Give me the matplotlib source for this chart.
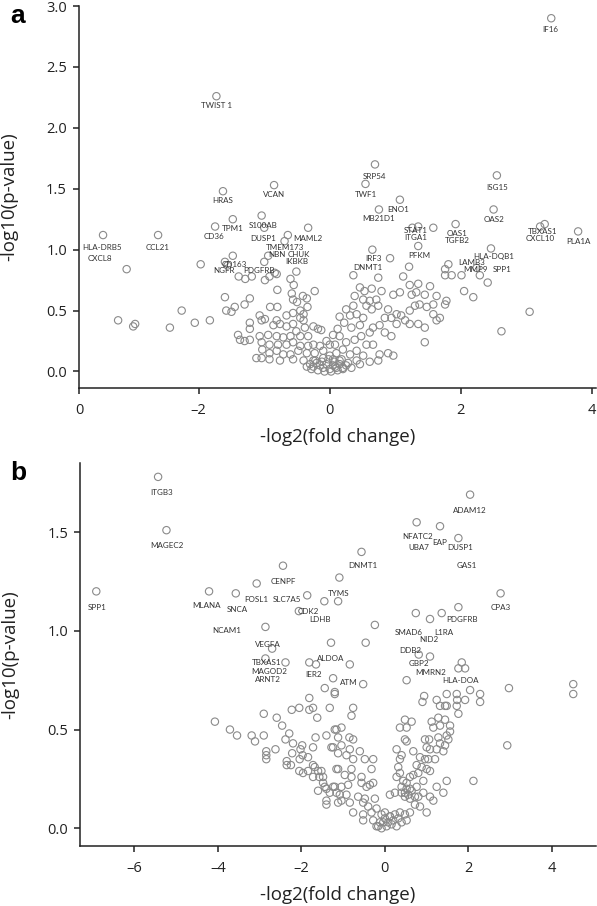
import matplotlib
matplotlib.use("Agg")
import matplotlib.pyplot as plt

plt.rcParams['font.family'] = ['Open Sans', 'DejaVu Sans']

# ---------------- panel a data ----------------
a_x = [-1.73, -1.63, -0.85, -3.46, -3.10, -2.62, -1.48, -1.75, -1.04, -1.00,
       -0.64, -0.69, -0.33, -0.94, -1.48, -1.60, -1.00, -1.56, -1.97,
       -1.39, -1.29, -1.19, -0.99, -0.92, -0.84, -0.81, -0.51, -0.60, -0.55,
       -0.80, -0.23, -0.58, -0.56, -0.50, -0.41, -0.35, -0.34, -1.60, -1.22,
       -1.30, -1.45, -1.58, -1.50, -1.07, -1.04, -0.99, -0.91, -0.80, -1.22,
       -1.22, -1.40, -1.37, -1.30, -1.22, -0.86,
       -3.23, -3.00, -2.97, -2.44, -2.26, -2.06, -1.83,
       -1.07, -0.94, -0.81, -0.71, -0.60, -0.45, -0.33,
       -1.04, -0.92, -0.79, -0.66, -0.56, -0.45, -0.33, -0.25, -0.15,
       -1.03, -0.92, -0.81, -0.71, -0.60, -0.48, -0.35, -0.23, -0.10,
       -1.12, -1.04, -0.92, -0.76, -0.56, -0.40, -0.25, -0.10, 0.00,
       -0.66, -0.56, -0.45, -0.40, -0.56, -0.66, -0.76, -0.51, -0.38, -0.25,
       -0.18, -0.13, -0.40, -0.45, -0.81,
       -0.30, -0.25, -0.20, -0.15, -0.10, -0.05, 0.00, 0.05, 0.10, -0.28,
       -0.18, -0.08, 0.02, 0.12, -0.22, -0.12, 0.07, 0.15, 0.20, -0.35,
       -0.02, 0.25, 0.18,
       0.69, 0.545, 1.07, 0.75, 2.55, 2.50, 3.38,
       1.26, 1.35, 1.58, 1.92, 1.35, 0.65, 0.92, 1.21, 0.36, 0.74, 1.12,
       1.81, 1.76, 1.76, 1.86, 2.01, 2.46, 2.24, 2.29, 2.41, 3.21, 3.28,
       3.79, 3.05, 2.62, 2.05, 2.19,
       1.22, 1.35, 1.53,
       0.97, 1.07, 1.25, 1.32, 1.45, 1.63, 1.78, 1.76,
       0.46, 0.53, 0.64, 0.79,
       0.38, 0.51, 0.61, 0.71, 0.74, 0.56, 0.36, 0.25,
       0.89, 1.02, 1.09, 1.22, 1.30, 1.37, 1.48, 1.58,
       1.58, 1.68, 1.63, 1.45, 1.35, 1.22, 1.15, 1.02, 0.94, 0.84, 0.76,
       0.84, 0.94, 0.61, 0.66, 0.46, 0.33, 0.31, 0.41, 0.51, 0.64,
       1.45, 0.97, 0.89, 0.76, 0.66, 0.56, 0.74,
       0.10, 0.20, 0.31, 0.41, 0.51, 0.15, 0.28, 0.41, 0.08, 0.20, 0.33,
       0.46, 0.61, 0.05, 0.25, 0.38, 0.48, 0.15, 0.08,
       0.05, 0.12, 0.22, 0.00, 0.15, -0.05]
a_y = [2.26, 1.48, 1.53, 1.12, 0.84, 1.12, 1.25, 1.19, 1.28, 1.18,
       1.12, 1.07, 1.18, 0.95, 0.95, 0.90, 0.90, 0.87, 0.88,
       0.78, 0.76, 0.78, 0.75, 0.78, 0.81, 0.80, 0.82, 0.76, 0.71,
       0.67, 0.66, 0.64, 0.59, 0.57, 0.62, 0.60, 0.53, 0.61, 0.60,
       0.55, 0.53, 0.50, 0.49, 0.46, 0.42, 0.43, 0.53, 0.53, 0.40,
       0.35, 0.30, 0.26, 0.25, 0.26, 0.38,
       0.42, 0.37, 0.39, 0.36, 0.50, 0.40, 0.42,
       0.29, 0.30, 0.29, 0.28, 0.29, 0.29, 0.29,
       0.24, 0.22, 0.22, 0.22, 0.24, 0.21, 0.21, 0.22, 0.21,
       0.18, 0.15, 0.17, 0.14, 0.14, 0.17, 0.15, 0.15, 0.17,
       0.11, 0.11, 0.10, 0.09, 0.10, 0.09, 0.09, 0.11, 0.13,
       0.46, 0.48, 0.44, 0.42, 0.39, 0.37, 0.39, 0.33, 0.36, 0.37,
       0.35, 0.34, 0.47, 0.50, 0.42,
       0.06, 0.04, 0.07, 0.05, 0.03, 0.06, 0.02, 0.05, 0.03, 0.02,
       0.01, 0.00, 0.00, 0.01, 0.09, 0.08, 0.08, 0.06, 0.02, 0.04,
       0.10, 0.05, 0.10,
       1.70, 1.54, 1.41, 1.33, 1.61, 1.33, 2.90,
       1.18, 1.19, 1.18, 1.21, 1.03, 1.00, 0.93, 0.86, 0.79, 0.77, 0.78,
       0.88, 0.84, 0.79, 0.79, 0.79, 1.01, 0.85, 0.79, 0.73, 1.19, 1.21,
       1.15, 0.49, 0.33, 0.66, 0.61,
       0.71, 0.72, 0.70,
       0.63, 0.65, 0.63, 0.65, 0.63, 0.62, 0.58, 0.55,
       0.69, 0.66, 0.68, 0.66,
       0.62, 0.59, 0.58, 0.59, 0.54, 0.54, 0.54, 0.51,
       0.51, 0.47, 0.46, 0.50, 0.54, 0.55, 0.53, 0.55,
       0.47, 0.44, 0.42, 0.36, 0.39, 0.39, 0.42, 0.39, 0.44, 0.44, 0.38,
       0.32, 0.29, 0.32, 0.36, 0.38, 0.36, 0.46, 0.47, 0.44, 0.51,
       0.24, 0.13, 0.15, 0.14, 0.22, 0.22, 0.09,
       0.15, 0.18, 0.14, 0.17, 0.13, 0.09, 0.07, 0.09, 0.04, 0.03, 0.03,
       0.06, 0.08, 0.10, 0.24, 0.26, 0.29, 0.29, 0.22,
       0.30, 0.35, 0.40, 0.22, 0.45, 0.25]

a_labels = ['TWIST 1', 'HRAS', 'VCAN', 'HLA-DRB5', 'CXCL8', 'CCL21', 'TPM1',
            'CD36', 'S100AB', 'DUSP1', 'MAML2', 'TMEM173', 'NBN', 'CHUK',
            'IKBKB', 'CD163', 'NGFR', 'PDGFRB', 'SRP54', 'TWF1', 'ENO1',
            'MB21D1', 'ISG15', 'OAS2', 'STAT1', 'ITGA1', 'OAS1', 'TGFB2',
            'PFKM', 'IRF3', 'DNMT1', 'HLA-DQB1', 'LAMB3', 'MMP9', 'SPP1',
            'TBXAS1', 'CXCL10', 'PLA1A', 'IF16']
a_lab_x = [-1.73, -1.63, -0.85, -3.47, -3.51, -2.63, -1.48, -1.76, -1.01, -1.02,
           -0.34, -0.69, -0.80, -0.48, -0.50, -1.45, -1.62, -1.08, 0.69, 0.55,
           1.05, 0.75, 2.55, 2.50, 1.31, 1.31, 1.94, 1.94, 1.36, 0.66, 0.58,
           2.50, 2.16, 2.23, 2.63, 3.25, 3.21, 3.79, 3.37]
a_lab_y = [2.18, 1.40, 1.45, 1.02, 0.93, 1.02, 1.17, 1.11, 1.20, 1.09,
           1.09, 1.015, 0.96, 0.96, 0.905, 0.88, 0.83, 0.83, 1.60, 1.45,
           1.33, 1.26, 1.51, 1.25, 1.155, 1.10, 1.13, 1.075, 0.95, 0.93, 0.85,
           0.945, 0.895, 0.84, 0.84, 1.15, 1.09, 1.07, 2.81]

# ---------------- panel b data ----------------
b_x = [-5.43, -5.23, -6.91, -4.21, -3.57, -3.07, -2.44, -2.86, -2.70,
       -2.06, -1.86,
       2.04, 0.76, 1.32, 1.76, -0.56, -1.09, -1.45, -1.12, 2.77, 1.76,
       0.74, 1.08, 1.36, -0.24, -1.29, -0.46, 0.81, 1.08,
       -2.86, -2.38, -1.81, -1.65, -1.24, -1.44, -1.20, -1.81, -1.32, -2.23,
       -2.05, -1.81, -1.72, -2.90, -2.59, -2.46, -1.62, -4.07, -3.71, -3.54,
       -3.19, -3.11, -2.90, -2.84, -2.84, -2.84, -2.62, -2.29, -2.38, -2.20,
       -1.98, -2.22, -2.02, -1.97, -2.35, -2.35, -2.25,
       -0.52, -0.84,
       0.52, 1.76, 1.84, 1.92, 2.04, 2.28, 2.28, 2.97, 4.51, 4.51, 2.93,
       2.12, 1.48, 1.72, 1.92, 1.73, 1.72, 1.76, 1.48,
       -1.20, -0.76, -0.80, -1.16, -1.04, -0.85, -0.76, -1.24, -1.04, -0.84,
       -0.60, -0.92, -0.76, -0.48, -0.28, -1.12, -0.80, -0.32, -0.96, -0.80,
       -0.56, -0.28, -1.24, -1.04, -0.88, -0.56, -0.44, -0.36,
       -1.16, -0.92, -0.64, -0.48, -0.24,
       -1.04, -0.84, -0.52, -0.40, -0.20, -0.76, -0.52, -0.32, -0.08,
       -0.52, -0.28, -0.16, -0.04, 0.12,
       -0.20, -0.08, 0.04, 0.16, 0.28, 0.40, 0.52, 0.00, 0.12, 0.24, 0.36,
       -0.12, 0.08, 0.20, 0.32, 0.00, 0.48, 0.60,
       0.12, 0.24, 0.40, 0.48, 0.60,
       0.40, 0.52, 0.60, 0.48, 0.56, 0.64, 0.72, 0.76, 0.52,
       0.28, 0.36, 0.44,
       0.60, 0.68, 0.80, 0.88, 0.76, 0.92, 1.00, 1.08,
       0.32, 0.40, 0.48, 0.36,
       0.68, 0.84, 0.96, 1.04, 1.20, 0.28, 0.52,
       1.00, 1.08, 1.24, 1.40,
       0.96, 1.06, 1.28, 1.48, 1.56, 1.52, 1.32, 1.44,
       0.64, 0.52, 0.36, 0.48,
       1.12, 1.16, 1.32, 1.44, 1.56,
       1.28, 1.32, 1.44, 1.24, 0.94, 0.90,
       1.24, 1.48, 1.40, 1.08, 0.92, 0.80, 0.72, 0.84, 1.00, 1.16,
       -2.05, -1.96, -1.84, -1.72, -1.68, -1.60, -1.52, -1.57, -1.48, -1.48,
       -1.44, -1.40, -1.32, -1.40, -1.40, -1.60, -1.72, -1.84, -2.04, -1.72,
       -1.66, -1.40, -1.28, -1.20, -1.12, -1.12, -1.16, -1.20, -1.08, -1.12]
b_y = [1.78, 1.51, 1.20, 1.20, 1.19, 1.24, 1.33, 1.02, 0.91,
       1.10, 1.18,
       1.69, 1.55, 1.53, 1.47, 1.40, 1.27, 1.15, 1.15, 1.19, 1.12,
       1.09, 1.06, 1.09, 1.03, 0.94, 0.94, 0.88, 0.87,
       0.86, 0.84, 0.84, 0.83, 0.76, 0.71, 0.68, 0.66, 0.61, 0.60,
       0.61, 0.60, 0.61, 0.58, 0.56, 0.52, 0.56, 0.54, 0.50, 0.47,
       0.47, 0.44, 0.47, 0.39, 0.37, 0.35, 0.40, 0.48, 0.45, 0.43,
       0.42, 0.38, 0.40, 0.37, 0.34, 0.32, 0.32,
       0.73, 0.83,
       0.75, 0.81, 0.84, 0.81, 0.70, 0.68, 0.64, 0.71, 0.73, 0.68, 0.42,
       0.24, 0.68, 0.68, 0.65, 0.65, 0.62, 0.58, 0.62,
       0.69, 0.61, 0.57, 0.50, 0.51, 0.46, 0.45, 0.41, 0.42, 0.40,
       0.39, 0.37, 0.35, 0.35, 0.35, 0.30, 0.30, 0.30, 0.27, 0.26,
       0.26, 0.23, 0.21, 0.21, 0.22, 0.23, 0.21, 0.22,
       0.18, 0.17, 0.16, 0.15, 0.15,
       0.14, 0.13, 0.13, 0.11, 0.10, 0.08, 0.07, 0.08, 0.07,
       0.04, 0.04, 0.01, 0.03, 0.06,
       0.01, 0.00, 0.01, 0.02, 0.01, 0.03, 0.04, 0.05, 0.06, 0.07, 0.08,
       0.03, 0.03, 0.04, 0.05, 0.08, 0.07, 0.08,
       0.17, 0.18, 0.18, 0.16, 0.15,
       0.21, 0.23, 0.20, 0.18, 0.17, 0.19, 0.16, 0.21, 0.20,
       0.26, 0.28, 0.24,
       0.26, 0.27, 0.28, 0.31, 0.32, 0.24, 0.30, 0.29,
       0.31, 0.37, 0.45, 0.35,
       0.39, 0.36, 0.35, 0.35, 0.35, 0.40, 0.44,
       0.41, 0.40, 0.40, 0.39,
       0.45, 0.45, 0.46, 0.47, 0.49, 0.45, 0.43, 0.42,
       0.54, 0.51, 0.51, 0.55,
       0.54, 0.51, 0.52, 0.55, 0.52,
       0.56, 0.62, 0.62, 0.65, 0.67, 0.64,
       0.21, 0.24, 0.18, 0.16, 0.18, 0.16, 0.12, 0.11, 0.08, 0.14,
       0.29, 0.28, 0.29, 0.26, 0.31, 0.29, 0.29, 0.26, 0.26, 0.23,
       0.21, 0.20, 0.18, 0.14, 0.12, 0.19, 0.32, 0.36, 0.35, 0.41,
       0.46, 0.47, 0.41, 0.50, 0.46, 0.38, 0.30, 0.21, 0.17, 0.13]

b_labels = ['ITGB3', 'MAGEC2', 'SPP1', 'MLANA', 'SNCA', 'FOSL1', 'SLC7A5',
            'CENPF', 'NCAM1', 'VEGFA', 'TBXAS1', 'MAGOD2', 'ARNT2', 'ALDOA',
            'IER2', 'ATM', 'CDK2', 'LDHB', 'TYMS', 'DNMT1', 'NFATC2', 'EAP',
            'UBA7', 'DUSP1', 'GAS1', 'ADAM12', 'CPA3', 'PDGFRB', 'SMAD6',
            'NID2', 'L1RA', 'DDB2', 'GBP2', 'MMRN2', 'HLA-DOA']
b_lab_x = [-5.34, -5.22, -6.90, -4.26, -3.54, -3.07, -2.35, -2.44, -3.78, -2.80,
           -2.83, -2.78, -2.80, -1.29, -1.72, -0.86, -1.84, -1.56, -1.10, -0.53,
           0.79, 1.32, 0.81, 1.79, 1.96, 2.04, 2.78, 1.84, 0.56, 1.05, 1.42,
           0.60, 0.81, 1.10, 1.82]
b_lab_y = [1.70, 1.43, 1.12, 1.13, 1.11, 1.16, 1.16, 1.25, 1.00, 0.93,
           0.84, 0.795, 0.755, 0.86, 0.78, 0.74, 1.10, 1.06, 1.19, 1.33,
           1.48, 1.45, 1.42, 1.42, 1.33, 1.61, 1.12, 1.06, 0.99, 0.955, 0.99,
           0.90, 0.835, 0.79, 0.75]

fig = plt.figure(figsize=(5.97, 9.06), dpi=100)
ax_a = fig.add_axes([0.132, 0.5717, 0.866, 0.4216])
ax_b = fig.add_axes([0.134, 0.0662, 0.864, 0.4227])

def style(ax):
    for s in ['top', 'right']:
        ax.spines[s].set_visible(False)
    for s in ['left', 'bottom']:
        ax.spines[s].set_linewidth(1.1)
        ax.spines[s].set_color('#222222')
    ax.tick_params(direction='out', length=4.5, width=1.1, labelsize=10.5,
                   color='#222222', labelcolor='#222222', pad=4)
    ax.tick_params(axis='x', pad=6.5)
    ax.set_ylabel('-log10(p-value)', fontsize=13.5, color='#222222')
    ax.set_xlabel('-log2(fold change)', fontsize=13.5, color='#222222', labelpad=7)
    ax.yaxis.set_label_coords(-0.118, 0.5)

mk = dict(s=28, facecolors='none', edgecolors='#8a8a8a', linewidths=0.8)
lab = dict(fontsize=5.8, ha='center', va='center', color='#333333', family='Lato')

# panel a
ax_a.scatter(a_x, a_y, **mk)
for t, x, y in zip(a_labels, a_lab_x, a_lab_y):
    ax_a.text(x, y, t, **lab)
ax_a.set_xlim(-3.83, 4.06)
ax_a.set_ylim(-0.136, 3.0)
ax_a.set_xticks([-3.82, -2, 0, 2, 4])
ax_a.set_xticklabels(['0', '\u20132', '0', '2', '4'])
ax_a.set_yticks([0, 0.5, 1.0, 1.5, 2.0, 2.5, 3.0])
ax_a.set_yticklabels(['0.0', '0.5', '1.0', '1.5', '2.0', '2.5', '3.0'])
style(ax_a)

# panel b
ax_b.scatter(b_x, b_y, **mk)
for t, x, y in zip(b_labels, b_lab_x, b_lab_y):
    ax_b.text(x, y, t, **lab)
ax_b.set_xlim(-7.3, 5.05)
ax_b.set_ylim(-0.09, 1.85)
ax_b.set_xticks([-6, -4, -2, 0, 2, 4])
ax_b.set_xticklabels(['\u20136', '\u20134', '\u20132', '0', '2', '4'])
ax_b.set_yticks([0, 0.5, 1.0, 1.5])
ax_b.set_yticklabels(['0.0', '0.5', '1.0', '1.5'])
style(ax_b)

fig.text(0.017, 0.982, 'a', fontsize=19, fontweight='bold', family='Liberation Sans',
         va='center', ha='left')
fig.text(0.017, 0.478, 'b', fontsize=19, fontweight='bold', family='Liberation Sans',
         va='center', ha='left')

fig.savefig('out.png', dpi=100)
